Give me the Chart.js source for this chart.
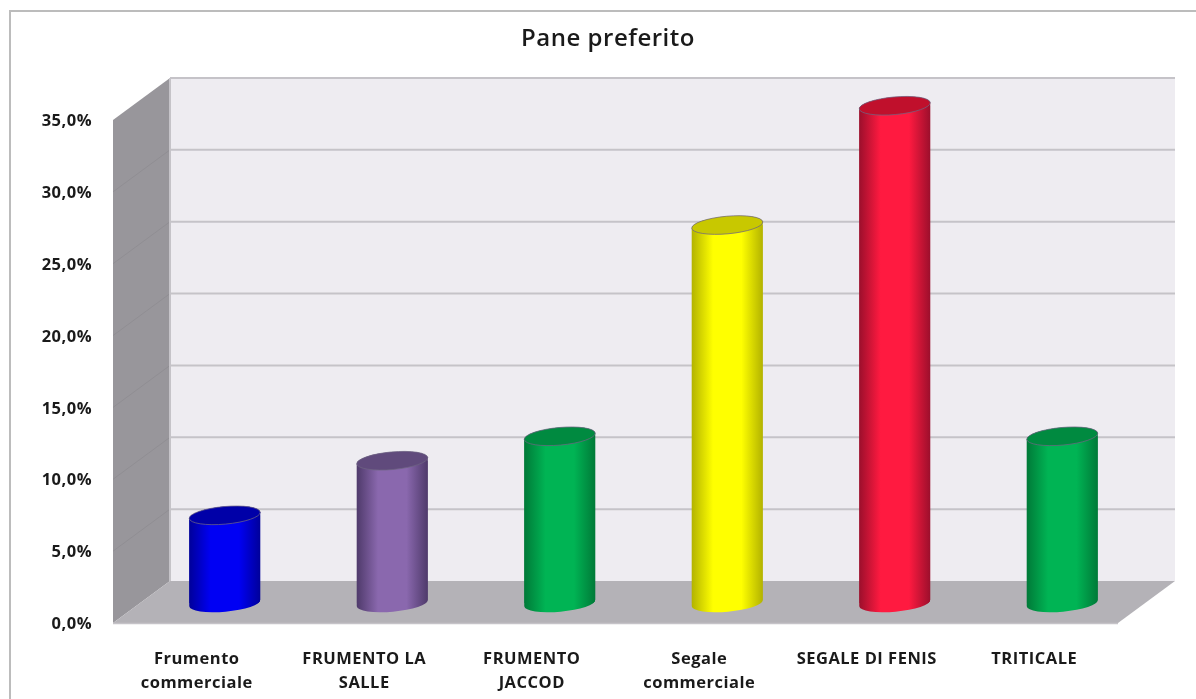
<!DOCTYPE html>
<html><head><meta charset="utf-8">
<script src="https://cdn.jsdelivr.net/npm/chart.js@4"></script>
<style>html,body{margin:0;padding:0;background:#fff}canvas{display:block;filter:blur(0.45px)}</style>
</head><body><canvas id="c" width="1196" height="699"></canvas>
<script>
const categories = [["Frumento","commerciale"],["FRUMENTO LA","SALLE"],["FRUMENTO","JACCOD"],["Segale","commerciale"],"SEGALE DI FENIS","TRITICALE"];
const values = [6.1, 9.9, 11.6, 26.3, 34.6, 11.6];
const tickLabels = ["0,0%","5,0%","10,0%","15,0%","20,0%","25,0%","30,0%","35,0%"];
const titleText = "Pane preferito";
const edgeColors = ["#00009a","#4f3a6b","#007a38","#b3b300","#9c0f2c","#007a38"];
const bodyColors = ["#0000f4","#8a68ae","#00b454","#ffff00","#ff1a40","#00b454"];
const capColors = ["#0000a8","#604a7c","#008a40","#c8c800","#c0102c","#008a40"];

const DX = 57, DY = -42, BX = 28, BY = -20, RY = 8.8, TILT = 0.09, BAR_HALF = 35.5;

function grad(ctx, x, i){
  const g = ctx.createLinearGradient(x-BAR_HALF,0,x+BAR_HALF,0);
  g.addColorStop(0, edgeColors[i]);
  g.addColorStop(0.3, bodyColors[i]);
  g.addColorStop(0.7, bodyColors[i]);
  g.addColorStop(1, edgeColors[i]);
  return g;
}
const rx = () => BAR_HALF/Math.cos(TILT);
function silhouette(ctx, el){
  ctx.moveTo(el.x-BAR_HALF, el.y+BAR_HALF*Math.tan(TILT));
  ctx.ellipse(el.x, el.y, rx(), RY, -TILT, Math.PI, 2*Math.PI);
  ctx.lineTo(el.x+BAR_HALF, el.base-BAR_HALF*Math.tan(TILT));
  ctx.ellipse(el.x, el.base, rx(), RY, -TILT, 0, Math.PI);
  ctx.closePath();
}
const scene = {
  id:'scene',
  beforeDraw(chart){
    const c = chart.ctx;
    c.letterSpacing = '0.5px';
    c.save();
    c.fillStyle='#fff'; c.fillRect(0,0,chart.width,chart.height);
    c.strokeStyle='#bcbcbc'; c.lineWidth=2;
    c.beginPath(); c.moveTo(10,chart.height); c.lineTo(10,11); c.lineTo(chart.width,11); c.stroke();
    c.restore();
  },
  beforeDatasetsDraw(chart){
    const c = chart.ctx, a = chart.chartArea, y = chart.scales.y;
    const L=a.left,R=a.right,T=a.top,B=a.bottom;
    c.save();
    c.fillStyle='#eeecf1'; c.fillRect(L+DX,T+DY,R-L,B-T);
    c.fillStyle='#98969b';
    c.beginPath(); c.moveTo(L,T); c.lineTo(L+DX,T+DY); c.lineTo(L+DX,B+DY); c.lineTo(L,B); c.closePath(); c.fill();
    c.fillStyle='#b4b2b7';
    c.beginPath(); c.moveTo(L,B); c.lineTo(R,B); c.lineTo(R+DX,B+DY); c.lineTo(L+DX,B+DY); c.closePath(); c.fill();
    y.ticks.forEach(t=>{
      const p=y.getPixelForValue(t.value);
      if(t.value>0){
        c.strokeStyle='#c5c3c8'; c.lineWidth=2;
        c.beginPath(); c.moveTo(L+DX,p+DY); c.lineTo(R+DX,p+DY); c.stroke();
        if(t.value<35){
          c.strokeStyle='#908e93'; c.lineWidth=1;
          c.beginPath(); c.moveTo(L,p); c.lineTo(L+DX,p+DY); c.stroke();
        }
      }
    });
    c.strokeStyle='#c5c3c8'; c.lineWidth=2;
    c.beginPath(); c.moveTo(L+DX,T+DY); c.lineTo(L+DX,B+DY); c.stroke();
    c.lineWidth=1.5;
    c.beginPath(); c.moveTo(L,B+0.5); c.lineTo(R,B+0.5); c.stroke();
    c.restore();

    const els = chart.getDatasetMeta(0).data;
    c.save();
    c.translate(BX,BY);
    els.forEach((el,i)=>{
      c.fillStyle = grad(c, el.x, i);
      c.beginPath();
      silhouette(c,el);
      c.fill();
    });
    c.beginPath();
    els.forEach(el=>silhouette(c,el));
    c.clip();
  },
  afterDatasetsDraw(chart){
    const c = chart.ctx;
    c.restore();
    c.save();
    c.translate(BX,BY);
    chart.getDatasetMeta(0).data.forEach((el,i)=>{
      c.fillStyle = capColors[i];
      c.strokeStyle = 'rgba(110,100,130,0.75)';
      c.lineWidth = 1;
      c.beginPath();
      c.ellipse(el.x, el.y, rx(), RY, -TILT, 0, 2*Math.PI);
      c.fill(); c.stroke();
    });
    c.restore();
  }
};
new Chart(document.getElementById('c'),{
  type:'bar',
  data:{labels:categories,datasets:[{
    data:values,
    yAxisID:'y',
    clip:false,
    barPercentage:0.424,
    categoryPercentage:1,
    borderWidth:0,
    backgroundColor(ctx){
      const ch=ctx.chart;
      if(!ch.chartArea||ctx.dataIndex===undefined) return bodyColors[ctx.dataIndex||0];
      return grad(ch.ctx, ch.scales.x.getPixelForValue(ctx.dataIndex), ctx.dataIndex);
    }
  }]},
  options:{
    responsive:false,animation:false,
    layout:{padding:{left:20,right:0,top:0,bottom:0}},
    plugins:{
      legend:{display:false},tooltip:{enabled:false},
      title:{display:true,text:titleText,color:'#1a1a1a',
        font:{family:'Open Sans',size:24,weight:'600',lineHeight:1.2},
        padding:{top:24.5,bottom:66.7}}
    },
    scales:{
      x:{
        grid:{display:false,drawTicks:false},border:{display:false},
        afterFit(s){s.height=76;},
        ticks:{color:'#1a1a1a',font:{family:'Open Sans',size:16.5,weight:'bold',lineHeight:1.45},padding:24,maxRotation:0,minRotation:0,autoSkip:false}
      },
      y:{
        min:0,max:35,position:'left',
        grid:{display:false,drawTicks:false},border:{display:false},
        afterFit(s){
          s.width=93;
          if(!s._nudged){
            s._nudged=true;
            const d=s.drawLabels;
            s.drawLabels=function(area){const c=s.ctx;c.save();c.translate(0,1.5);d.call(s,area);c.restore();};
          }
        },
        ticks:{stepSize:5,color:'#1a1a1a',font:{family:'Open Sans',size:16.5,weight:'bold'},padding:21,
          callback(v){return tickLabels[Math.round(v/5)];}}
      },
      pad:{
        position:'right',min:0,max:1,
        grid:{display:false,drawTicks:false},border:{display:false},
        ticks:{display:false},
        afterFit(s){s.width=78;}
      }
    }
  },
  plugins:[scene]
});
</script></body></html>
